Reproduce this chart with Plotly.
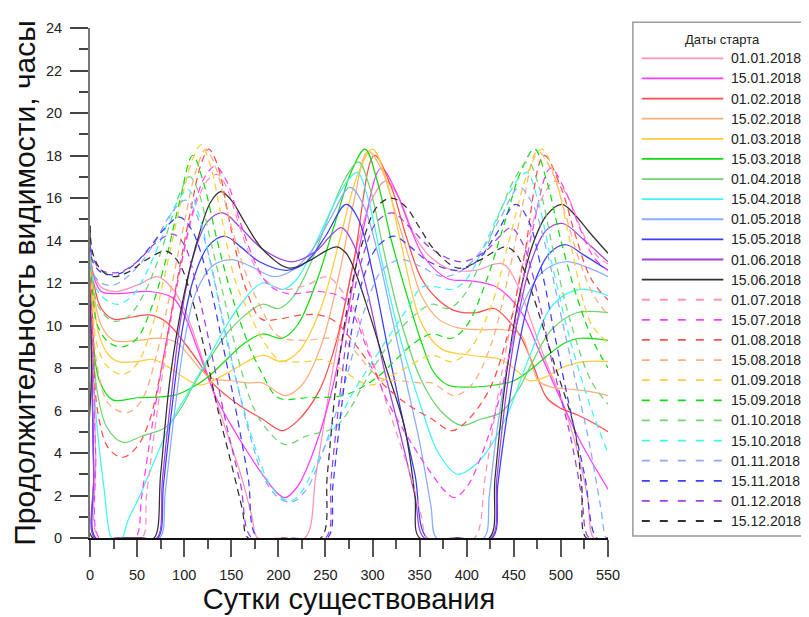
import plotly.graph_objects as go

# ---- data: [day, hours] ----
START_DATES = ["01.01.2018", "15.01.2018", "01.02.2018", "15.02.2018", "01.03.2018", "15.03.2018",
               "01.04.2018", "15.04.2018", "01.05.2018", "15.05.2018", "01.06.2018", "15.06.2018",
               "01.07.2018", "15.07.2018", "01.08.2018", "15.08.2018", "01.09.2018", "15.09.2018",
               "01.10.2018", "15.10.2018", "01.11.2018", "15.11.2018", "01.12.2018", "15.12.2018"]

COLORS = ["#ff92b8", "#ff3cff", "#ff4c4c", "#ffae78", "#ffcc3c", "#10dd10",
          "#6fd36f", "#40f4f4", "#88acff", "#3c3cff", "#a040e0", "#303030"]

jan01 = [[0,13.2],[4,12.4],[12,11.8],[28,11.6],[50,11.9],[72,12.3],[88,11.7],[100,10.8],[115,9.0],[130,7.0],[145,5.0],[160,3.0],[172,1.0],[178,0],[200,0],[228,0],[240,3.0],[255,7.2],[270,10.8],[285,14.0],[300,16.0],[314,16.8],[328,16.0],[345,14.2],[362,13.2],[385,12.6],[410,12.6],[438,12.9],[455,11.8],[470,10.0],[485,8.2],[500,6.6],[515,4.5],[528,2.0],[535,0],[550,0]]
jan15 = [[0,13.6],[4,12.3],[12,11.6],[28,11.5],[63,11.6],[88,11.3],[100,10.5],[115,8.8],[134,6.6],[150,5.3],[165,4.2],[183,3.0],[197,2.2],[207,1.9],[220,2.4],[235,3.8],[256,6.8],[274,10.7],[290,14.5],[309,17.4],[325,16.3],[340,14.6],[355,13.2],[380,12.2],[404,12.1],[432,11.8],[457,10.7],[478,8.7],[499,6.6],[520,4.6],[550,2.3]]
feb01 = [[0,13.8],[4,12.0],[12,10.8],[25,10.3],[45,10.4],[63,10.5],[80,10.2],[100,9.2],[115,8.3],[130,7.3],[145,6.7],[160,6.2],[183,5.6],[204,5.05],[220,5.5],[243,6.9],[260,9.0],[280,13.0],[302,18.0],[320,16.5],[335,14.3],[352,12.2],[370,11.2],[387,10.7],[410,10.6],[429,10.8],[445,10.2],[457,9.5],[470,8.2],[485,6.6],[500,6.1],[517,5.8],[535,5.4],[550,5.0]]
feb15 = [[0,13.9],[4,11.5],[12,10.0],[25,9.3],[50,9.3],[75,9.4],[92,9.2],[105,8.6],[118,7.9],[130,7.5],[150,7.4],[170,7.3],[183,7.3],[207,6.7],[225,7.2],[245,9.0],[265,12.5],[280,15.8],[295,18.2],[310,17.3],[325,15.2],[340,13.0],[352,11.4],[370,10.3],[390,9.9],[415,9.8],[440,9.8],[457,9.6],[467,8.5],[476,7.4],[490,7.1],[510,7.0],[530,6.9],[550,6.7]]
mar01 = [[0,14.0],[4,11.2],[10,9.5],[20,8.6],[30,8.3],[50,8.3],[67,8.4],[85,8.0],[105,7.4],[118,7.2],[135,7.5],[155,8.0],[183,8.6],[204,8.3],[222,8.8],[245,10.8],[265,14.0],[285,17.2],[300,18.3],[315,16.8],[330,13.9],[352,10.1],[373,8.9],[404,8.6],[436,8.4],[455,7.8],[467,7.4],[485,7.6],[500,8.0],[525,8.3],[550,8.3]]
mar15 = [[0,14.2],[3,9.5],[10,7.4],[24,6.5],[50,6.6],[88,6.7],[105,7.0],[126,7.6],[145,8.4],[165,9.2],[183,9.6],[204,9.4],[220,10.0],[240,12.0],[260,14.8],[278,17.3],[292,18.3],[305,16.8],[320,14.0],[338,11.2],[352,9.2],[365,7.8],[380,7.2],[404,7.1],[430,7.2],[450,7.4],[470,8.0],[486,8.6],[505,9.2],[520,9.4],[550,9.3]]
apr01 = [[0,13.8],[3,9.0],[8,6.8],[18,5.2],[35,4.5],[55,4.8],[80,5.2],[95,6.0],[110,7.2],[125,8.3],[145,9.6],[165,10.5],[183,11.0],[200,10.8],[215,11.3],[235,13.0],[255,15.3],[272,17.0],[285,17.7],[297,16.5],[312,13.5],[330,10.2],[352,7.4],[372,6.0],[394,5.3],[415,5.6],[436,5.9],[455,7.0],[470,8.3],[490,9.8],[517,10.6],[550,10.6]]
apr15 = [[0,13.0],[3,8.0],[8,5.0],[15,2.3],[23,0],[28,0],[34,0],[40,0.8],[53,2.0],[70,3.8],[88,5.6],[109,7.2],[126,8.5],[145,10.0],[160,11.0],[183,12.0],[205,11.7],[220,12.2],[240,13.9],[260,15.8],[275,16.9],[284,17.2],[295,16.0],[310,13.0],[330,9.3],[352,6.1],[370,4.0],[390,3.0],[405,3.3],[422,4.1],[443,5.8],[468,8.7],[492,11.0],[520,11.7],[550,11.4]]
may01 = [[0,13.2],[2,8.0],[4,2.5],[6,0],[30,0],[55,0],[74,0],[80,2.2],[90,6.0],[100,9.2],[112,11.5],[130,12.8],[150,13.1],[170,12.8],[195,12.3],[215,12.6],[235,13.5],[255,15.0],[276,16.5],[290,15.7],[305,13.5],[320,10.5],[335,7.5],[350,4.5],[362,1.5],[368,0],[390,0],[418,0],[424,2.0],[432,5.0],[445,8.5],[460,11.0],[480,12.5],[505,13.0],[530,12.7],[550,12.3]]
may15 = [[0,13.5],[2,8.0],[4,3.0],[6,0],[30,0],[55,0],[72,0],[78,2.5],[88,6.5],[98,9.8],[110,12.2],[125,13.7],[143,14.2],[160,13.7],[180,13.0],[210,12.6],[230,13.0],[250,14.2],[272,15.7],[285,15.0],[300,12.5],[315,9.2],[330,6.0],[345,3.0],[358,0],[390,0],[427,0],[433,2.5],[442,5.5],[455,9.0],[470,11.8],[488,13.4],[505,13.8],[525,13.3],[550,12.6]]
jun01 = [[0,13.8],[2,8.0],[4,3.0],[5,0],[30,0],[55,0],[71,0],[77,2.8],[87,7.0],[97,10.5],[110,13.3],[125,14.9],[141,15.3],[160,14.6],[183,13.6],[214,13.0],[240,13.5],[255,14.2],[267,14.6],[280,13.8],[295,11.5],[312,8.0],[330,4.8],[345,2.0],[355,0],[390,0],[426,0],[432,2.8],[442,6.8],[455,10.5],[470,13.2],[485,14.5],[502,14.8],[525,14.0],[550,13.0]]
jun15 = [[0,14.7],[1.5,8.0],[3,0],[30,0],[55,0],[68,0],[75,3.0],[85,7.5],[100,11.5],[114,14.0],[128,15.8],[139,16.3],[150,15.9],[165,14.8],[183,13.6],[211,12.7],[235,13.1],[250,13.5],[262,13.7],[272,13.4],[281,12.6],[297,10.5],[313,8.2],[334,5.2],[345,2.0],[350,0],[390,0],[424,0],[430,2.8],[440,7.0],[455,11.2],[470,13.8],[485,15.2],[501,15.7],[515,15.2],[530,14.4],[550,13.4]]

jul01 = [[0,13.0],[3,9.0],[6,4.0],[9,0],[30,0],[55,0],[60,2.0],[70,5.5],[85,10.0],[100,13.5],[115,16.0],[128,17.0],[136,17.1],[145,16.5],[160,14.5],[175,12.8],[190,12.0],[205,11.7],[230,11.9],[252,12.3],[268,11.6],[280,10.8],[295,9.0],[310,7.0],[325,5.0],[340,3.0],[352,1.0],[358,0],[385,0],[408,0],[420,3.0],[435,7.2],[450,10.8],[465,14.0],[480,16.0],[494,16.8],[508,16.0],[525,14.2],[540,13.2],[550,12.9]]
jul15 = [[0,13.3],[3,9.0],[6,4.0],[10,0],[30,0],[48,0],[55,2.0],[65,5.0],[80,9.0],[95,12.5],[110,15.5],[122,17.0],[133,17.5],[145,16.8],[160,14.8],[175,13.0],[190,11.9],[210,11.5],[243,11.6],[268,11.3],[280,10.5],[295,8.8],[314,6.6],[330,5.3],[345,4.2],[363,3.0],[377,2.2],[387,1.9],[400,2.4],[415,3.8],[436,6.8],[454,10.7],[470,14.5],[489,17.4],[505,16.3],[520,14.6],[535,13.2],[550,12.6]]
aug01 = [[0,13.5],[3,10.0],[8,6.0],[20,4.2],[35,3.8],[50,4.3],[63,5.5],[75,7.8],[90,11.5],[105,15.0],[118,17.6],[126,18.3],[135,17.6],[150,14.5],[165,11.8],[182,10.3],[200,10.3],[225,10.5],[243,10.5],[260,10.2],[280,9.2],[295,8.3],[310,7.3],[325,6.7],[340,6.2],[363,5.6],[384,5.05],[400,5.5],[423,6.9],[440,9.0],[460,13.0],[482,18.0],[500,16.5],[515,14.3],[532,12.2],[550,11.2]]
aug15 = [[0,13.7],[3,10.5],[8,8.0],[20,6.3],[40,5.9],[55,6.5],[70,8.5],[85,11.5],[100,14.8],[112,17.2],[123,18.3],[133,17.5],[148,15.0],[165,12.5],[182,10.8],[200,9.5],[225,9.3],[255,9.4],[272,9.2],[285,8.6],[298,7.9],[310,7.5],[330,7.4],[350,7.3],[363,7.3],[387,6.7],[405,7.2],[425,9.0],[445,12.5],[460,15.8],[475,18.2],[490,17.3],[505,15.2],[520,13.0],[535,11.4],[550,10.5]]
sep01 = [[0,13.8],[3,11.0],[8,9.0],[20,8.0],[35,7.7],[50,8.2],[65,9.8],[80,12.5],[95,15.5],[108,17.7],[118,18.5],[128,17.5],[140,15.0],[155,12.0],[170,10.5],[185,9.2],[200,8.4],[210,8.3],[230,8.3],[247,8.4],[265,8.0],[285,7.4],[298,7.2],[315,7.5],[335,8.0],[363,8.6],[384,8.3],[402,8.8],[425,10.8],[445,14.0],[465,17.2],[480,18.3],[495,16.8],[510,13.9],[532,10.1],[550,9.2]]
sep15 = [[0,14.0],[3,11.5],[8,10.0],[20,9.2],[35,9.0],[50,9.4],[65,10.8],[80,13.0],[95,15.8],[109,18.0],[120,16.8],[135,14.0],[150,11.5],[165,9.5],[182,7.8],[200,6.6],[230,6.6],[268,6.7],[285,7.0],[306,7.6],[325,8.4],[345,9.2],[363,9.6],[384,9.4],[400,10.0],[420,12.0],[440,14.8],[458,17.3],[472,18.3],[485,16.8],[500,14.0],[518,11.2],[535,9.2],[550,8.0]]
oct01 = [[0,13.8],[3,12.0],[10,10.8],[25,10.2],[40,10.4],[55,11.3],[70,12.8],[85,14.8],[97,16.4],[106,17.0],[115,16.3],[128,14.0],[145,10.8],[160,8.0],[175,6.0],[190,5.0],[207,4.4],[230,4.8],[260,5.2],[275,6.0],[290,7.2],[305,8.3],[325,9.6],[345,10.5],[363,11.0],[380,10.8],[395,11.3],[415,13.0],[435,15.3],[452,17.0],[465,17.7],[477,16.5],[492,13.5],[510,10.2],[532,7.4],[550,6.3]]
oct15 = [[0,13.5],[3,12.3],[10,11.5],[28,11.0],[45,11.4],[60,12.5],[75,14.0],[90,15.6],[104,16.4],[115,15.3],[130,12.5],[145,9.3],[160,6.6],[175,4.3],[190,2.6],[203,1.9],[214,1.75],[225,2.2],[240,3.5],[260,5.2],[280,6.9],[300,8.3],[325,10.0],[340,11.0],[352,11.8],[370,11.8],[385,11.7],[400,12.2],[420,13.9],[440,15.8],[455,16.9],[464,17.2],[475,16.0],[490,13.0],[510,9.3],[532,6.1],[550,4.0]]
nov01 = [[0,13.5],[3,12.5],[12,12.0],[25,11.9],[40,12.3],[55,13.0],[70,14.0],[85,15.2],[101,15.9],[110,15.5],[125,13.5],[140,10.5],[155,7.5],[170,4.8],[185,2.8],[200,1.9],[215,1.7],[230,2.3],[245,3.8],[262,6.0],[275,8.0],[292,10.8],[310,12.6],[330,13.1],[350,12.8],[375,12.3],[395,12.6],[415,13.5],[435,15.0],[456,16.5],[470,15.7],[485,13.5],[500,10.5],[515,7.5],[530,4.5],[542,1.5],[548,0],[550,0]]
nov15 = [[0,13.8],[3,13.0],[12,12.5],[28,12.4],[45,12.8],[62,13.6],[80,14.6],[95,15.1],[108,14.5],[125,12.3],[140,9.3],[155,6.0],[168,2.8],[178,0],[215,0],[252,0],[258,2.5],[268,6.5],[278,9.8],[290,12.2],[305,13.7],[323,14.2],[340,13.7],[360,13.0],[390,12.6],[410,13.0],[430,14.2],[452,15.7],[465,15.0],[480,12.5],[495,9.2],[510,6.0],[525,3.0],[538,0],[550,0]]
dec01 = [[0,14.2],[3,13.2],[12,12.6],[30,12.5],[50,13.0],[70,13.9],[88,14.3],[100,13.8],[115,11.5],[130,8.5],[145,5.3],[160,2.5],[172,0],[210,0],[250,0],[256,2.8],[266,7.0],[276,10.5],[290,13.3],[305,14.9],[321,15.3],[340,14.6],[363,13.6],[394,13.0],[420,13.5],[435,14.2],[447,14.6],[460,13.8],[475,11.5],[492,8.0],[510,4.8],[522,2.0],[530,0],[550,0]]
dec15 = [[0,14.7],[3,13.4],[12,12.6],[25,12.3],[40,12.5],[60,13.1],[81,13.5],[95,12.9],[108,11.3],[122,8.8],[136,6.0],[150,3.5],[162,1.3],[168,0],[205,0],[245,0],[252,3.0],[262,7.5],[276,11.5],[290,14.0],[305,15.6],[320,16.0],[335,15.6],[350,14.6],[365,13.6],[391,12.7],[415,13.1],[430,13.5],[442,13.7],[452,13.4],[461,12.6],[477,10.5],[493,8.2],[514,5.2],[522,2.5],[527,0],[550,0]]

SERIES = [jan01, jan15, feb01, feb15, mar01, mar15, apr01, apr15, may01, may15, jun01, jun15,
          jul01, jul15, aug01, aug15, sep01, sep15, oct01, oct15, nov01, nov15, dec01, dec15]

X_TICKS = list(range(0, 551, 50))
Y_TICKS = list(range(0, 25, 2))

FONT = "Arial, Liberation Sans, sans-serif"

# ---- geometry: page pixels; the html body adds an 8px margin ----
OFF = 8
W, H = 809 - OFF, 617 - OFF
L, R, T, B = 87, 608, 22, 543          # plot area in page pixels
PW, PH = R - L, B - T


def px(x):
    return (x - L) / PW


def py(y):
    return (B - y) / PH


fig = go.Figure()
for i, (name, pts) in enumerate(zip(START_DATES, SERIES)):
    color = COLORS[i % 12]
    dash = "solid" if i < 12 else "7px,5px"
    fig.add_trace(go.Scatter(
        x=[p[0] for p in pts], y=[p[1] for p in pts], mode="lines", name=name,
        line=dict(color=color, width=1.25, dash=dash, shape="spline", smoothing=1.0),
        showlegend=False, hoverinfo="skip"))

# ---- hand-built legend (long line samples as in the reference) ----
shapes = [dict(type="rect", xref="paper", yref="paper", x0=px(633), x1=px(840), y0=py(541), y1=py(16),
               line=dict(color="#9a9a9a", width=1.5), fillcolor="white", layer="below")]
annotations = [dict(xref="paper", yref="paper", x=px(723), y=py(34), text="Даты старта", showarrow=False,
                    xanchor="center", yanchor="middle", font=dict(family=FONT, size=13, color="#222"))]
for i, name in enumerate(START_DATES):
    yy = 53 + 20.55 * i
    color = COLORS[i % 12]
    shapes.append(dict(type="line", xref="paper", yref="paper", x0=px(642), x1=px(724), y0=py(yy), y1=py(yy),
                       line=dict(color=color, width=1.8, dash="solid" if i < 12 else "8px,10px")))
    annotations.append(dict(xref="paper", yref="paper", x=px(730), y=py(yy), text=name, showarrow=False,
                            xanchor="left", yanchor="middle", font=dict(family=FONT, size=14, color="#222")))

fig.update_layout(
    width=W, height=H, margin=dict(l=L - OFF, r=W - (R - OFF), t=T - OFF, b=H - (B - OFF), pad=0),
    paper_bgcolor="white", plot_bgcolor="white", showlegend=False,
    font=dict(family=FONT, color="#222"), shapes=shapes, annotations=annotations,
    xaxis=dict(range=[0, 550], tickvals=X_TICKS, ticks="outside", ticklen=17, tickwidth=1.5, tickcolor="#555",
               showline=True, linecolor="#111", linewidth=1.5, showgrid=False, zeroline=False,
               tickfont=dict(size=14.5, family=FONT, color="#222"), ticklabelstandoff=6,
               minor=dict(dtick=25, ticks="outside", ticklen=9, tickwidth=1.5, tickcolor="#555", showgrid=False),
               title=dict(text="Сутки существования", font=dict(size=29, family=FONT, color="#111"), standoff=2)),
    yaxis=dict(range=[0, 24], tickvals=Y_TICKS, ticks="outside", ticklen=18, tickwidth=1.5, tickcolor="#444",
               showline=True, linecolor="#777", linewidth=2, showgrid=False, zeroline=False,
               tickfont=dict(size=14.5, family=FONT, color="#222"), ticklabelstandoff=5,
               minor=dict(dtick=1, ticks="outside", ticklen=9, tickwidth=1.5, tickcolor="#444", showgrid=False),
               title=dict(text="Продолжительность видимости, часы", font=dict(size=30, family=FONT, color="#111"), standoff=5)),
)

fig.write_html("out.html")
